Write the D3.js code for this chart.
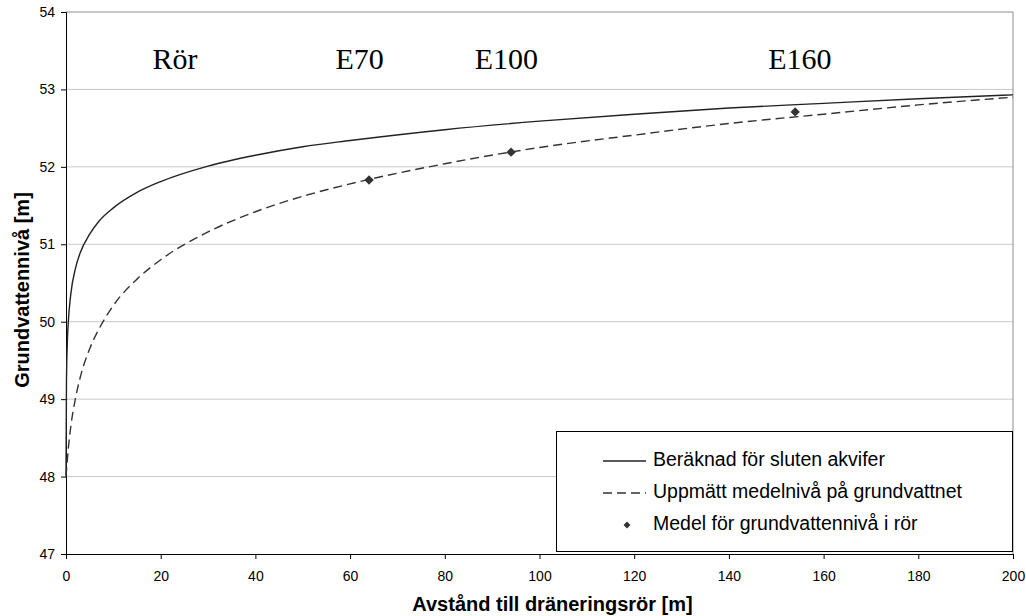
<!DOCTYPE html>
<html lang="sv">
<head>
<meta charset="UTF-8">
<script src="https://d3js.org/d3.v7.min.js"></script>
<style>
    body {margin: 0; background: #fff;}
    svg {display: block;}
    .tick text {font-family: "Liberation Sans", Arial, sans-serif; font-size: 14px; fill: #000;}
</style>
</head>
<body>
<svg class="chart" width="1026" height="616"></svg>
<script>
// avstånd till dräneringsröret [m]
const beraknadX = [0, 0.01, 0.1, 0.3, 0.5, 1, 2, 3, 5, 7, 10, 15, 20, 30, 40, 50, 60, 80, 100, 120, 140, 160, 180, 200];
// beräknad grundvattennivå för sluten akvifer [m]
const beraknadY = [48.0, 48.1, 49.23, 49.76, 50.01, 50.35, 50.69, 50.89, 51.13, 51.30, 51.47, 51.67, 51.81, 52.01, 52.15, 52.26, 52.34, 52.48, 52.59, 52.68, 52.76, 52.82, 52.88, 52.93];

const uppmattX = [0, 0.5, 1, 2, 3, 5, 7, 10, 15, 20, 30, 40, 50, 60, 80, 100, 120, 140, 160, 180, 200];
const uppmattY = [48.0, 48.37, 48.64, 49.01, 49.28, 49.65, 49.91, 50.21, 50.55, 50.80, 51.16, 51.42, 51.62, 51.78, 52.04, 52.25, 52.41, 52.56, 52.68, 52.80, 52.90];

// medel i rören
const rorX = [64, 94, 154];
const rorY = [51.83, 52.19, 52.71];

const etiketter = ["Rör", "E70", "E100", "E160"];
const etikettX = [23, 62, 93, 155];

const xTicks = [0, 20, 40, 60, 80, 100, 120, 140, 160, 180, 200];
const yTicks = [47, 48, 49, 50, 51, 52, 53, 54];

const legendText = ["Beräknad för sluten akvifer", "Uppmätt medelnivå på grundvattnet", "Medel för grundvattennivå i rör"];

let mLeft = 66, mTop = 12, mRight = 1013, mBottom = 554;

var x = d3.scaleLinear().domain([0, 200]).range([mLeft, mRight]);
var y = d3.scaleLinear().domain([47, 54]).range([mBottom, mTop]);

var svg = d3.select('.chart');

// rutnät
svg.append('g').selectAll('line').data(yTicks.slice(1)).enter().append('line')
    .attr('x1', mLeft).attr('x2', mRight)
    .attr('y1', d => y(d)).attr('y2', d => y(d))
    .attr('stroke', d => d === 54 ? '#8c8c8c' : '#c8c8c8')
    .attr('stroke-width', 1);
svg.append('line')
    .attr('x1', mRight).attr('x2', mRight).attr('y1', mTop).attr('y2', mBottom)
    .attr('stroke', '#8c8c8c');

// axlar
svg.append('g')
    .attr('transform', 'translate(' + mLeft + ',0)')
    .call(d3.axisLeft(y).tickValues(yTicks).tickSize(5).tickPadding(6).tickFormat(d3.format('d')))
    .call(g => g.selectAll('line, path').attr('stroke', '#000'));
svg.append('g')
    .attr('transform', 'translate(0,' + mBottom + ')')
    .call(d3.axisBottom(x).tickValues(xTicks).tickSize(5).tickPadding(12).tickSizeOuter(5).tickFormat(d3.format('d')))
    .call(g => g.selectAll('line, path').attr('stroke', '#000'));

// kurvor
var line = d3.line().x(d => x(d[0])).y(d => y(d[1])).curve(d3.curveMonotoneX);

svg.append('path')
    .datum(d3.zip(beraknadX, beraknadY))
    .attr('d', line)
    .attr('fill', 'none')
    .attr('stroke', '#222')
    .attr('stroke-width', 1.4);

svg.append('path')
    .datum(d3.zip(uppmattX, uppmattY))
    .attr('d', line)
    .attr('fill', 'none')
    .attr('stroke', '#333')
    .attr('stroke-width', 1.4)
    .attr('stroke-dasharray', '9,5');

var diamond = d3.symbol().type(d3.symbolSquare).size(44);
svg.append('g').selectAll('path').data(d3.zip(rorX, rorY)).enter().append('path')
    .attr('d', diamond)
    .attr('transform', d => 'translate(' + x(d[0]) + ',' + y(d[1]) + ') rotate(45)')
    .attr('fill', '#333');

// rörnamn
svg.append('g').selectAll('text').data(etiketter).enter().append('text')
    .attr('x', (d, i) => x(etikettX[i]))
    .attr('y', 69)
    .attr('text-anchor', 'middle')
    .style('font-family', '"Liberation Serif", "Times New Roman", serif')
    .style('font-size', '30px')
    .text(d => d);

// axeltitlar
svg.append('text')
    .attr('x', (mLeft + mRight) / 2 + 13)
    .attr('y', 611)
    .attr('text-anchor', 'middle')
    .style('font-family', '"Liberation Sans", Arial, sans-serif')
    .style('font-size', '20px')
    .style('font-weight', 'bold')
    .text('Avstånd till dräneringsrör [m]');

svg.append('text')
    .attr('transform', 'translate(29,' + ((mTop + mBottom) / 2 + 7) + ') rotate(-90)')
    .attr('text-anchor', 'middle')
    .style('font-family', '"Liberation Sans", Arial, sans-serif')
    .style('font-size', '20px')
    .style('font-weight', 'bold')
    .text('Grundvattennivå [m]');

// förklaring
var lg = svg.append('g');
lg.append('rect')
    .attr('x', 556.5).attr('y', 431.5)
    .attr('width', 456).attr('height', 120)
    .attr('fill', '#fff').attr('stroke', '#000');

var rowY = [461, 493, 525];
lg.append('line').attr('x1', 603).attr('x2', 646).attr('y1', rowY[0]).attr('y2', rowY[0])
    .attr('stroke', '#222').attr('stroke-width', 1.4);
lg.append('line').attr('x1', 603).attr('x2', 646).attr('y1', rowY[1]).attr('y2', rowY[1])
    .attr('stroke', '#333').attr('stroke-width', 1.4).attr('stroke-dasharray', '9,5');
lg.append('path').attr('d', d3.symbol().type(d3.symbolSquare).size(24))
    .attr('transform', 'translate(627,' + rowY[2] + ') rotate(45)').attr('fill', '#333');

lg.selectAll('text.lt').data(legendText).enter().append('text')
    .attr('class', 'lt')
    .attr('x', 653)
    .attr('y', (d, i) => rowY[i])
    .attr('dy', '0.25em')
    .style('font-family', '"Liberation Sans", Arial, sans-serif')
    .style('font-size', '19.5px')
    .text(d => d);
</script>
</body>
</html>
